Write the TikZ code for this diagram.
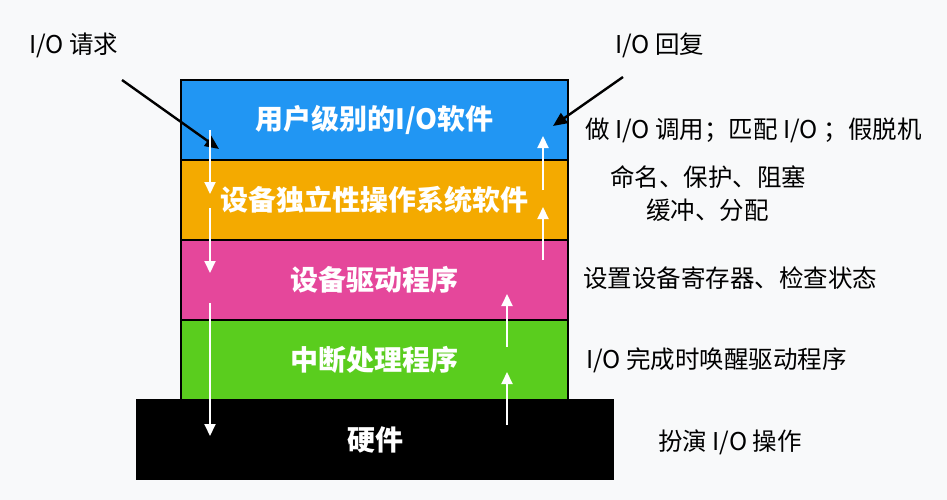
\documentclass[tikz,border=0pt]{standalone}
\usepackage{fontspec}
\setmainfont{Noto Sans CJK SC}
\usetikzlibrary{arrows.meta}
\definecolor{bgc}{HTML}{F8F9FA}
\definecolor{lblue}{HTML}{2196F3}
\definecolor{lorange}{HTML}{F4AA00}
\definecolor{lpink}{HTML}{E5479B}
\definecolor{lgreen}{HTML}{5ACD1E}
\tikzset{
  layer/.style={draw=black, line width=1.2pt, minimum width=387pt, minimum height=80pt, inner sep=0pt, text=white, font=\fontsize{28}{30}\selectfont\bfseries},
  note/.style={anchor=west, inner sep=0pt, text=black, font=\fontsize{24.5}{26}\selectfont},
  flow/.style={draw=white, line width=2pt, -{Triangle[width=11pt,length=12pt]}},
  pointer/.style={draw=black, line width=2.4pt, -{Triangle[width=12pt,length=14pt]}}
}
\begin{document}
\begin{tikzpicture}[x=1pt,y=-1pt]
\useasboundingbox (0,0) rectangle (947,500);
\fill[bgc] (0,0) rectangle (947,500);
% layers
\node[layer, fill=lblue] (user) at (374.5,120) {用户级别的I/O软件};
\node[layer, fill=lorange] (indep) at (374.5,200) {设备独立性操作系统软件};
\node[layer, fill=lpink] (driver) at (374.5,280) {设备驱动程序};
\node[layer, fill=lgreen] (intr) at (374.5,360) {中断处理程序};
\node[layer, fill=black, minimum width=476pt, minimum height=79pt] (hw) at (375,439.5) {硬件};
% labels
\node[note] (req) at (29,45) {I/O 请求};
\node[note] (rep) at (615,45) {I/O 回复};
\node[note] (n1) at (585,130) {做 I/O 调用；匹配 I/O ；假脱机};
\node[note] (n2) at (610,177) {命名、保护、阻塞};
\node[note] (n3) at (646,210) {缓冲、分配};
\node[note] (n4) at (583,278) {设置设备寄存器、检查状态};
\node[note] (n5) at (586,360) {I/O 完成时唤醒驱动程序};
\node[note] (n6) at (658,442) {扮演 I/O 操作};
% black pointer arrows
\coordinate (p1s) at (122,80); \coordinate (p1e) at (219,149);
\coordinate (p2s) at (623,77); \coordinate (p2e) at (553,126);
\draw[pointer] (p1s) -- (p1e);
\draw[pointer] (p2s) -- (p2e);
% white flow arrows (down)
\coordinate (d1s) at (210,130); \coordinate (d1e) at (210,194);
\coordinate (d2s) at (210,208); \coordinate (d2e) at (210,273);
\coordinate (d3s) at (210,303); \coordinate (d3e) at (210,436);
\draw[flow] (d1s) -- (d1e);
\draw[flow] (d2s) -- (d2e);
\draw[flow] (d3s) -- (d3e);
% white flow arrows (up)
\coordinate (u1s) at (507,425); \coordinate (u1e) at (507,372);
\coordinate (u2s) at (507,347); \coordinate (u2e) at (507,294);
\coordinate (u3s) at (543,260); \coordinate (u3e) at (543,207);
\coordinate (u4s) at (543,190); \coordinate (u4e) at (543,136);
\draw[flow] (u1s) -- (u1e);
\draw[flow] (u2s) -- (u2e);
\draw[flow] (u3s) -- (u3e);
\draw[flow] (u4s) -- (u4e);
\end{tikzpicture}
\end{document}
